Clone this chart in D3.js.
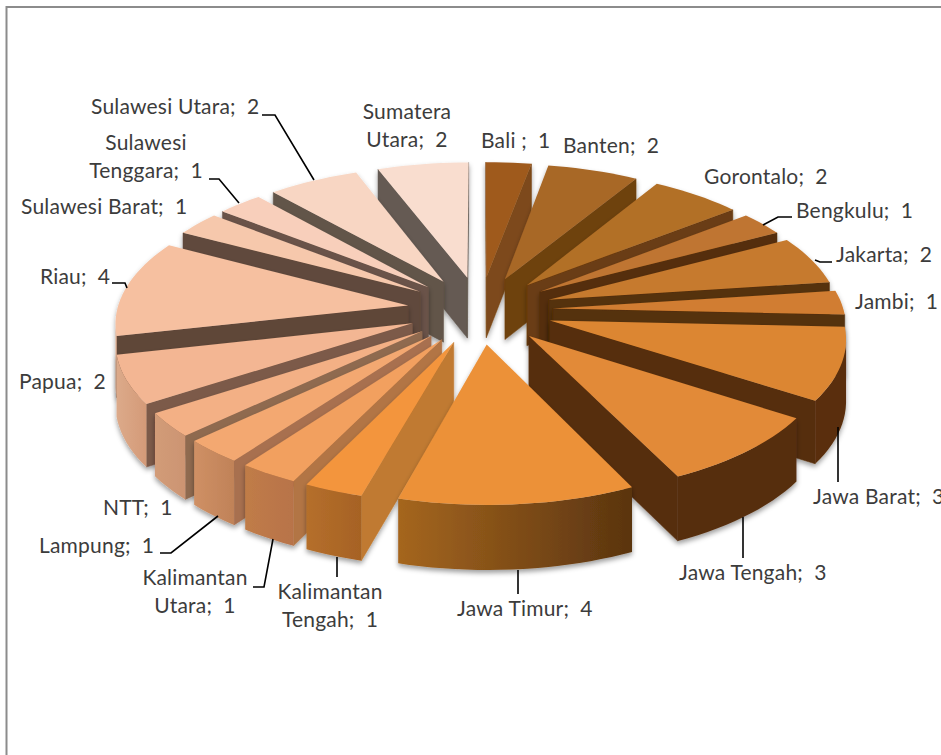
<!DOCTYPE html>
<html>
<head>
<meta charset="utf-8">
<script src="https://cdn.jsdelivr.net/npm/d3@7"></script>
<style>
  html, body { margin: 0; padding: 0; background: #fff; overflow: hidden; }
  text { font-family: Lato, "Open Sans", sans-serif; font-size: 21px; letter-spacing: 0.2px; fill: #3c3c3c; white-space: pre; }
</style>
</head>
<body>
<div id="chart"></div>
<script>
var categories = ["Bali ", "Banten", "Gorontalo", "Bengkulu", "Jakarta", "Jambi", "Jawa Barat", "Jawa Tengah",
  "Jawa Timur", "Kalimantan Tengah", "Kalimantan Utara", "Lampung", "NTT", "Papua", "Riau",
  "Sulawesi Barat", "Sulawesi Tenggara", "Sulawesi Utara", "Sumatera Utara"];
var values = [1, 2, 2, 1, 2, 1, 3, 3, 4, 1, 1, 1, 1, 2, 4, 1, 1, 2, 2];

// colours of each slice: top, cut wall, outer wall at both ends
var topColors = ["#9f5a1f", "#a86727", "#b26f28", "#bf7430", "#c67a2e", "#d17d30", "#dc8633", "#e28a37", "#ec9138", "#f3953d",
  "#f2a05e", "#f3a871", "#f3b085", "#f3b693", "#f6c0a0", "#f6c8ac", "#f8cfbb", "#f8d6c3", "#f9ddcf"];
var wallColors = ["#7d4a1a", "#6e4210", "#6b3c12", "#552f0b", "#54300b", "#54300b", "#562e0b", "#572e0f", "#5a340f", "#c07a30",
  "#b27444", "#a87050", "#8f6a50", "#7c5a48", "#5f4638", "#614a3c", "#6a5348", "#625449", "#655a52"];
var rimStart = ["#7d4a1a", "#6e4210", "#6b3c12", "#5e3310", "#54300b", "#54300b", "#5a2f0b", "#572e0f", "#5a340f", "#a66224",
  "#b8734a", "#c08258", "#cc9472", "#d49a78", "#dba585", "#dba585", "#dba585", "#dba585", "#dba585"];
var rimEnd = ["#7d4a1a", "#6e4210", "#6b3c12", "#5e3310", "#54300b", "#54300b", "#5a2f0b", "#572e0f", "#a5661f", "#b56f2b",
  "#c07c47", "#cf9065", "#d29c78", "#dcaa8a", "#dba585", "#dba585", "#dba585", "#dba585", "#dba585"];

// label placement, same order as categories. wrap = break after the first word
var labelX = [481, 563, 704, 796, 836, 855, 813, 679, 457, 330, 195, 39, 103, 19, 40, 21, 146, 91, 407];
var labelY = [148, 153, 184, 218, 262, 309, 504, 580, 616, 599, 585, 553, 515, 389, 284, 214, 150, 114, 119];
var labelWrap = [9, 10, 16, 18];

// leader lines: [category index, points]
var leaders = [
  [3, [[792, 217], [778, 217], [763, 225]]],
  [4, [[832, 262], [820, 262], [815, 260]]],
  [6, [[838, 427], [838, 482]]],
  [7, [[743, 517], [743, 558]]],
  [8, [[518, 570], [518, 594]]],
  [9, [[337, 557], [337, 577]]],
  [10, [[273, 539], [264, 587], [253, 587]]],
  [11, [[218, 516], [171, 553], [160, 553]]],
  [14, [[112, 283], [125, 283], [127, 288]]],
  [16, [[209, 179], [219, 179], [239, 203]]],
  [17, [[262, 115], [275, 115], [314, 180]]]
];

var width = 941, height = 755;

// pie lies on a plane seen in perspective
var cx = 480, cy = 310, scaleX = 291, scaleY = 134.6, persp = 0.11, thick = 61, explode = 0.25;

var svg = d3.select("#chart").append("svg")
  .attr("width", width)
  .attr("height", height);

var defs = svg.append("defs");
var shadow = defs.append("filter").attr("id", "shadow")
  .attr("x", "-20%").attr("y", "-20%").attr("width", "140%").attr("height", "140%");
shadow.append("feDropShadow")
  .attr("dx", 0).attr("dy", 3).attr("stdDeviation", 2.5)
  .attr("flood-color", "#000").attr("flood-opacity", 0.38);

// chart frame
svg.append("path")
  .attr("d", "M941,7H6.5V755")
  .attr("fill", "none")
  .attr("stroke", "#8c8c8c")
  .attr("stroke-width", 2);

var pie = d3.pie().sort(null).value(function(d) { return d; });
var slices = pie(values);

//flat (u,v) point to screen, z is the drop below the top face
function project(u, v, z) {
  var w = 1 - persp * v;
  return [cx + scaleX * u / w, cy + scaleY * v / w + z * thick / Math.pow(w, 0.44)];
}

function onSlice(d, r, a, z) {
  var m = (d.startAngle + d.endAngle) / 2;
  var u = explode * Math.sin(m) + r * Math.sin(a);
  var v = -explode * Math.cos(m) - r * Math.cos(a);
  return project(u, v, z);
}

var line = d3.line();

function outline(pts) {
  return line(pts) + "Z";
}

function arcAngles(d) {
  var n = Math.max(2, Math.round((d.endAngle - d.startAngle) / 0.035));
  return d3.range(n + 1).map(function(i) {
    return d.startAngle + (d.endAngle - d.startAngle) * i / n;
  });
}

// back slices first
var order = d3.range(slices.length).sort(function(a, b) {
  var ma = (slices[a].startAngle + slices[a].endAngle) / 2;
  var mb = (slices[b].startAngle + slices[b].endAngle) / 2;
  return Math.cos(mb) - Math.cos(ma);
});

order.forEach(function(i) {
  var d = slices[i];
  var g = svg.append("g").attr("filter", "url(#shadow)");

  // the two cut walls, only when they face the viewer
  var apexTop = onSlice(d, 0, 0, 0), apexBottom = onSlice(d, 0, 0, 1);
  [d.startAngle, d.endAngle].forEach(function(a, k) {
    var quad = [apexTop, onSlice(d, 1, a, 0), onSlice(d, 1, a, 1), apexBottom];
    var area = d3.polygonArea(quad);
    if ((k === 0 && area > 0) || (k === 1 && area < 0)) {
      g.append("path")
        .attr("d", outline(quad))
        .attr("fill", wallColors[i])
        .attr("stroke", wallColors[i])
        .attr("stroke-width", 0.5);
    }
  });

  // outer wall: one shape over the part that faces the viewer, shaded left to right
  var angles = arcAngles(d);
  var tint = d3.interpolateRgb(rimStart[i], rimEnd[i]);
  var seen = angles.filter(function(a, k) {
    if (k === angles.length - 1) return false;
    var quad = [onSlice(d, 1, a, 0), onSlice(d, 1, angles[k + 1], 0), onSlice(d, 1, angles[k + 1], 1), onSlice(d, 1, a, 1)];
    return d3.polygonArea(quad) > 0;
  });
  if (seen.length) {
    seen.push(seen[seen.length - 1] + (angles[1] - angles[0]));
    var first = seen[0], last = seen[seen.length - 1];
    var grad = defs.append("linearGradient")
      .attr("id", "rim" + i)
      .attr("gradientUnits", "userSpaceOnUse")
      .attr("x1", onSlice(d, 1, first, 0)[0]).attr("y1", 0)
      .attr("x2", onSlice(d, 1, last, 0)[0]).attr("y2", 0);
    [first, last].forEach(function(a, k) {
      grad.append("stop")
        .attr("offset", k)
        .attr("stop-color", tint((a - d.startAngle) / (d.endAngle - d.startAngle)));
    });
    var wall = seen.map(function(a) { return onSlice(d, 1, a, 0); })
      .concat(seen.slice().reverse().map(function(a) { return onSlice(d, 1, a, 1); }));
    g.append("path")
      .attr("d", outline(wall))
      .attr("fill", "url(#rim" + i + ")");
  }

  // top face
  var top = [apexTop].concat(angles.map(function(a) { return onSlice(d, 1, a, 0); }));
  g.append("path")
    .attr("d", outline(top))
    .attr("fill", topColors[i]);
});

// leader lines
leaders.forEach(function(l) {
  svg.append("path")
    .attr("d", line(l[1]))
    .attr("fill", "none")
    .attr("stroke", "#000")
    .attr("stroke-width", 1.6);
});

// labels
categories.forEach(function(name, i) {
  var t = svg.append("text").attr("y", labelY[i]);
  var label = name + ";  " + values[i];
  if (labelWrap.indexOf(i) >= 0) {
    var cut = name.indexOf(" ");
    t.attr("text-anchor", "middle");
    t.append("tspan").attr("x", labelX[i]).text(name.slice(0, cut));
    t.append("tspan").attr("x", labelX[i]).attr("dy", 28).text(label.slice(cut + 1));
  } else {
    t.attr("x", labelX[i]).text(label);
  }
});
</script>
</body>
</html>
